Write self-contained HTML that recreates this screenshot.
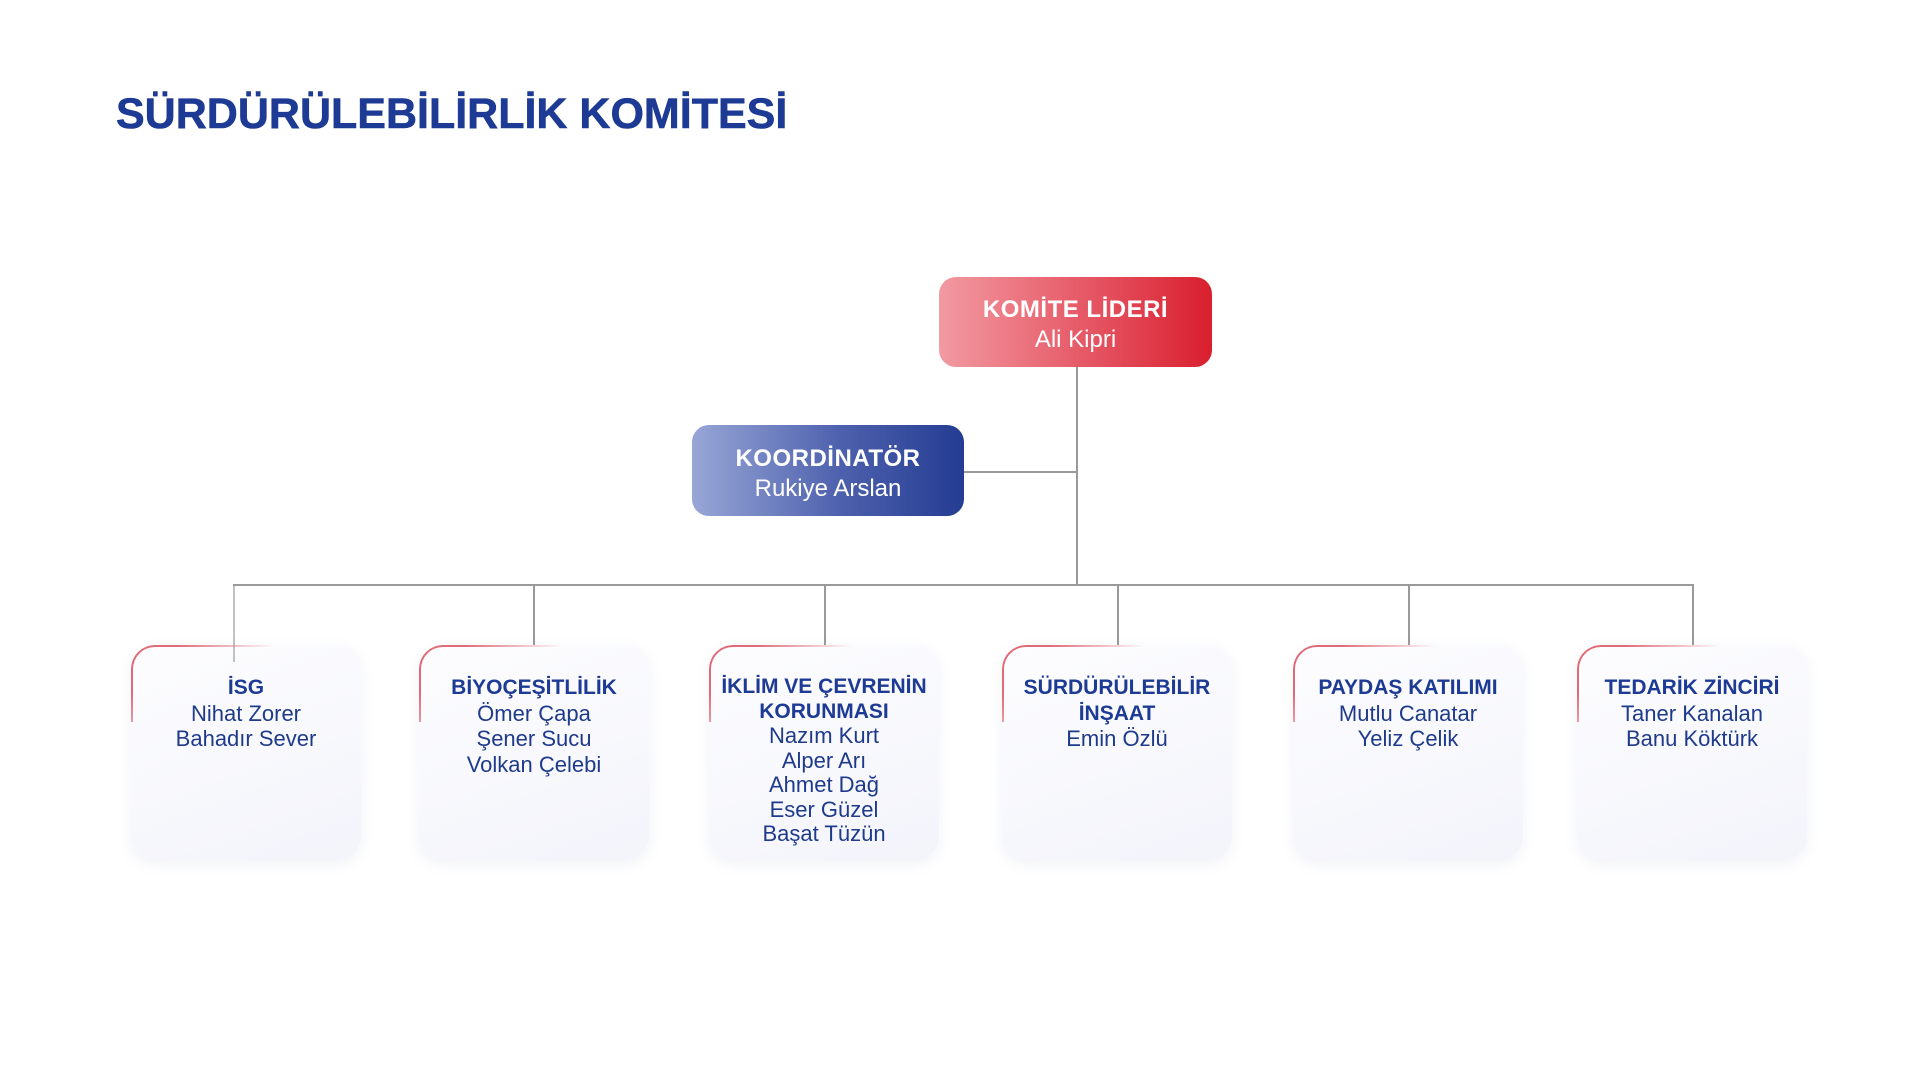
<!DOCTYPE html>
<html><head><meta charset="utf-8"><style>
*{margin:0;padding:0;box-sizing:border-box}
body{width:1920px;height:1080px;background:#fff;position:relative;overflow:hidden;font-family:"Liberation Sans",sans-serif;color:#1e3a8a}
.t{position:absolute;left:116px;top:90px;font-size:43px;font-weight:900;color:#1d3a94;-webkit-text-stroke:0.6px #1d3a94}
.l{position:absolute;background:#9a9a9a}
.top{position:absolute;border-radius:17px;color:#fff;text-align:center;display:flex;flex-direction:column;justify-content:center;line-height:30px;padding-top:6px}
.top b{font-size:24px;font-weight:900;letter-spacing:.5px}
.top span{font-size:24px}
.box{position:absolute;top:645px;width:230px;height:215px;border-radius:24px;background:linear-gradient(160deg,#fdfdff 0%,#f3f4fb 100%);box-shadow:0 4px 14px rgba(120,130,180,.10);text-align:center;padding-top:30px;font-size:22px;line-height:25.5px;color:#1e3a8a}
.box::before{content:"";position:absolute;left:0;top:0;width:70%;height:35%;border-top:2px solid #e06a76;border-left:2px solid #e06a76;border-radius:24px 0 0 0;-webkit-mask-image:linear-gradient(135deg,#000 20%,rgba(0,0,0,0) 60%);mask-image:linear-gradient(135deg,#000 20%,rgba(0,0,0,0) 60%)}
.box b{display:block;font-weight:900;font-size:21px;color:#1d3a94}
.box.k{line-height:24.5px}
</style></head><body>
<div class="t">SÜRDÜRÜLEBİLİRLİK KOMİTESİ</div>

<div class="l" style="left:1076px;top:367px;width:1.5px;height:218px"></div>
<div class="l" style="left:964px;top:471px;width:112px;height:1.5px"></div>
<div class="l" style="left:233px;top:584px;width:1460px;height:1.5px"></div>
<div class="l" style="left:533px;top:584px;width:1.5px;height:62px"></div>
<div class="l" style="left:824px;top:584px;width:1.5px;height:62px"></div>
<div class="l" style="left:1117px;top:584px;width:1.5px;height:62px"></div>
<div class="l" style="left:1408px;top:584px;width:1.5px;height:62px"></div>
<div class="l" style="left:1692px;top:584px;width:1.5px;height:62px"></div>

<div class="top" style="left:939px;top:277px;width:273px;height:90px;background:linear-gradient(90deg,#f29aa2 0%,#e4505e 60%,#d91f2e 100%)"><b>KOMİTE LİDERİ</b><span>Ali Kipri</span></div>
<div class="top" style="left:692px;top:425px;width:272px;height:91px;background:linear-gradient(90deg,#98a6d6 0%,#4d60ad 55%,#243c92 100%)"><b>KOORDİNATÖR</b><span>Rukiye Arslan</span></div>

<div class="box" style="left:131px"><b>İSG</b>Nihat Zorer<br>Bahadır Sever</div>
<div class="l" style="left:233px;top:584px;width:1.5px;height:78px;opacity:.6"></div>
<div class="box" style="left:419px"><b>BİYOÇEŞİTLİLİK</b>Ömer Çapa<br>Şener Sucu<br>Volkan Çelebi</div>
<div class="box k" style="left:709px"><b>İKLİM VE ÇEVRENİN<br>KORUNMASI</b>Nazım Kurt<br>Alper Arı<br>Ahmet Dağ<br>Eser Güzel<br>Başat Tüzün</div>
<div class="box" style="left:1002px"><b>SÜRDÜRÜLEBİLİR<br>İNŞAAT</b>Emin Özlü</div>
<div class="box" style="left:1293px"><b>PAYDAŞ KATILIMI</b>Mutlu Canatar<br>Yeliz Çelik</div>
<div class="box" style="left:1577px"><b>TEDARİK ZİNCİRİ</b>Taner Kanalan<br>Banu Köktürk</div>
</body></html>
